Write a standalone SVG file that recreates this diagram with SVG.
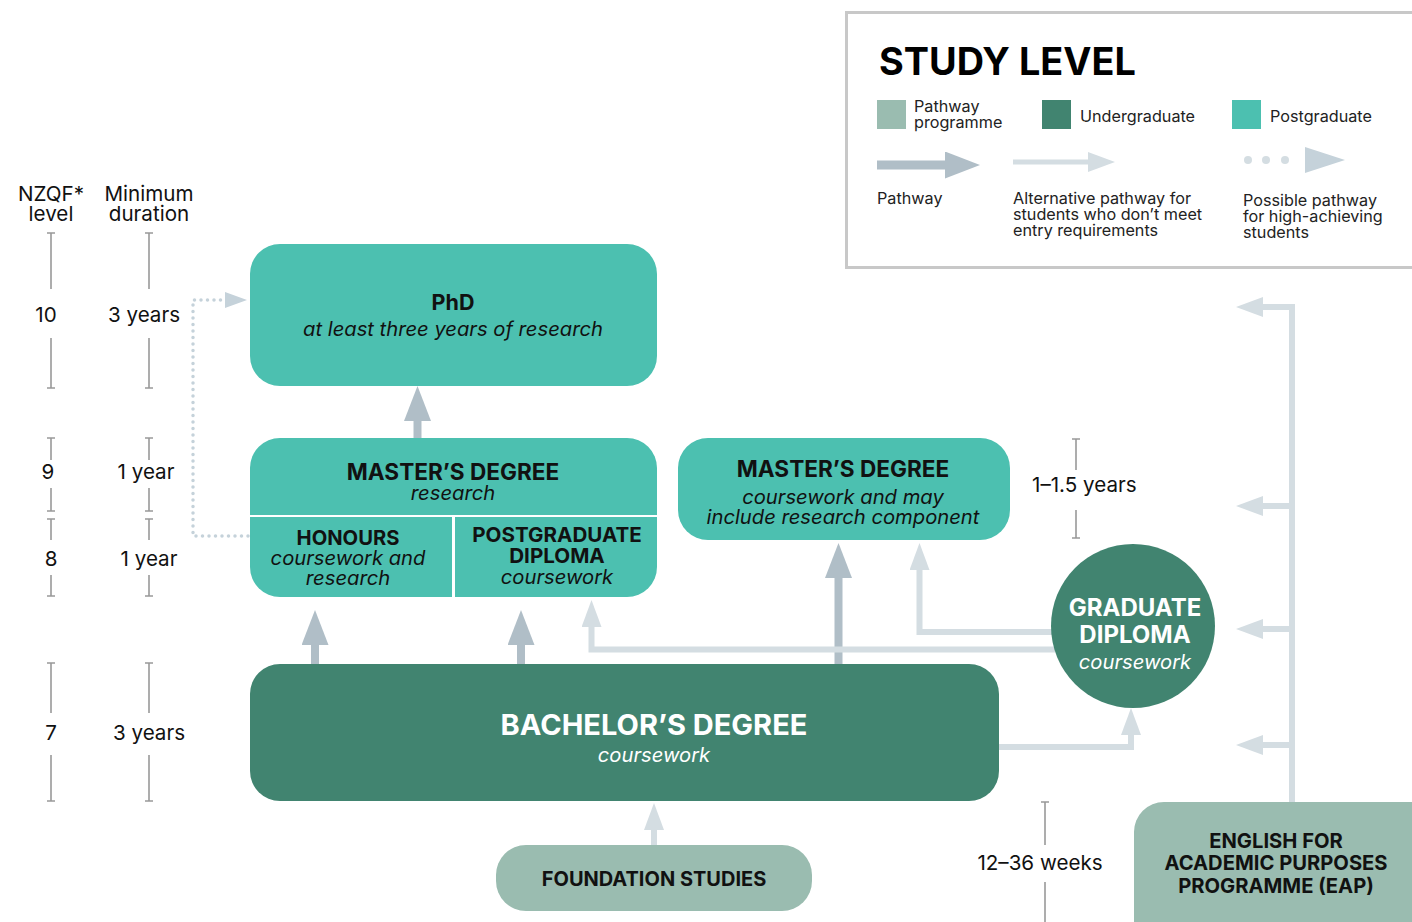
<svg xmlns="http://www.w3.org/2000/svg" width="1412" height="922" viewBox="0 0 1412 922">
<defs>
<style>
text{font-family:Inter,"Noto Sans","Liberation Sans",sans-serif;fill:#111}
.b{font-weight:700}
.i{font-style:italic;font-size:20.2px}
.w{fill:#fff}
.mid{text-anchor:middle}
.post{fill:#4CC0B0}
.under{fill:#418470}
.path{fill:#9ABCB0}
.scale{stroke:#999;stroke-width:1.6;fill:none}
.dark{stroke:#B0BEC7;stroke-width:8;fill:none}
.light{stroke:#D4DDE2;stroke-width:6;fill:none}
.dot{stroke:#C5D2DA;stroke-width:3.5;fill:none;stroke-dasharray:0 6.5;stroke-linecap:round}
.lg{font-size:16.2px;fill:#222}
.sc{font-size:20.6px}
</style>
<marker id="hd" viewBox="0 0 35 27" markerWidth="35" markerHeight="27" refX="0" refY="13.5" markerUnits="userSpaceOnUse" orient="auto"><path d="M0,0L35,13.5L0,27z" fill="#B0BEC7"/></marker>
<marker id="hl" viewBox="0 0 27 20" markerWidth="27" markerHeight="20" refX="0" refY="10" markerUnits="userSpaceOnUse" orient="auto"><path d="M0,0L27,10L0,20z" fill="#D4DDE2"/></marker>
<marker id="ht" viewBox="0 0 22 16" markerWidth="22" markerHeight="16" refX="0" refY="8" markerUnits="userSpaceOnUse" orient="auto"><path d="M0,0L22,8L0,16z" fill="#C5D2DA"/></marker>
</defs>
<rect width="1412" height="922" fill="#fff"/>

<g id="legend">
<rect x="846.5" y="12.5" width="580" height="255" fill="#fff" stroke="#C8C8C8" stroke-width="3"/>
<text x="879" y="75" class="b" style="font-size:37.8px;fill:#000">STUDY LEVEL</text>
<rect x="877" y="100" width="29" height="29" class="path"/>
<text x="914" y="112" class="lg">Pathway</text>
<text x="914" y="128" class="lg">programme</text>
<rect x="1042" y="100" width="29" height="29" class="under"/>
<text x="1080" y="122" class="lg">Undergraduate</text>
<rect x="1232" y="100" width="29" height="29" class="post"/>
<text x="1270" y="122" class="lg">Postgraduate</text>
<line x1="877" y1="165" x2="945" y2="165" stroke="#B0BEC7" stroke-width="9" marker-end="url(#hd)"/>
<line x1="1013" y1="162" x2="1088" y2="162" stroke="#D4DDE2" stroke-width="5" marker-end="url(#hl)"/>
<circle cx="1248" cy="160" r="4" fill="#D4DDE2"/>
<circle cx="1266" cy="160" r="4" fill="#D4DDE2"/>
<circle cx="1285" cy="160" r="4" fill="#D4DDE2"/>
<path d="M1305,147L1345,160L1305,173z" fill="#C5D2DA"/>
<text x="877" y="204" class="lg">Pathway</text>
<text x="1013" y="204" class="lg">Alternative pathway for</text>
<text x="1013" y="220" class="lg">students who don’t meet</text>
<text x="1013" y="236" class="lg">entry requirements</text>
<text x="1243" y="206" class="lg">Possible pathway</text>
<text x="1243" y="222" class="lg">for high-achieving</text>
<text x="1243" y="238" class="lg">students</text>
</g>

<g id="scale">
<text x="51" y="201" class="sc mid">NZQF*</text>
<text x="51" y="221" class="sc mid">level</text>
<text x="149" y="201" class="sc mid">Minimum</text>
<text x="149" y="221" class="sc mid">duration</text>
<path class="scale" d="M47,233H55M51,233V289M51,338V388M47,388H55M149,233V289M145,233H153M149,338V388M145,388H153
M47,438H55M51,438V460M51,488V511M47,511H55M145,438H153M149,438V460M149,488V511M145,511H153
M47,519H55M51,519V540M51,575V596M47,596H55M145,519H153M149,519V540M149,575V596M145,596H153
M47,663H55M51,663V713M51,755V801M47,801H55M145,663H153M149,663V713M149,755V801M145,801H153
M1072,439H1080M1076,439V470M1076,510V538M1072,538H1080
M1041,802H1049M1045,802V845M1045,882V922"/>
<text x="46" y="322" class="sc mid">10</text>
<text x="144" y="322" class="sc mid">3 years</text>
<text x="48" y="479" class="sc mid">9</text>
<text x="146" y="479" class="sc mid">1 year</text>
<text x="51" y="566" class="sc mid">8</text>
<text x="149" y="566" class="sc mid">1 year</text>
<text x="51" y="740" class="sc mid">7</text>
<text x="149" y="740" class="sc mid">3 years</text>
<text x="1032" y="492" class="sc">1–1.5 years</text>
<text x="1040" y="870" class="sc mid">12–36 weeks</text>
</g>

<g id="connectors">
<path class="dark" d="M417.5,438V421" marker-end="url(#hd)"/>
<path class="dark" d="M315,664V645" marker-end="url(#hd)"/>
<path class="dark" d="M521,664V645" marker-end="url(#hd)"/>
<path class="dark" d="M838.5,664V578" marker-end="url(#hd)"/>
<path class="light" d="M1055,649.5H591.5V627" marker-end="url(#hl)"/>
<path class="light" d="M1055,632H919.5V570" marker-end="url(#hl)"/>
<path class="light" d="M999,747H1131V735" marker-end="url(#hl)"/>
<path class="light" d="M654,845V830" marker-end="url(#hl)"/>
<path class="light" d="M1292,802V307H1263" marker-end="url(#hl)"/>
<path class="light" d="M1292,506H1263" marker-end="url(#hl)"/>
<path class="light" d="M1292,629H1263" marker-end="url(#hl)"/>
<path class="light" d="M1292,745H1263" marker-end="url(#hl)"/>
<path class="dot" d="M248,536H193V300H225" marker-end="url(#ht)"/>
</g>

<g id="phd">
<rect x="250" y="244" width="407" height="142" rx="30" class="post"/>
<text x="453" y="310" class="b mid" style="font-size:21.5px">PhD</text>
<text x="453" y="336" class="i mid">at least three years of research</text>
</g>

<g id="masters-research">
<path d="M280,438H627A30,30 0 0 1 657,468V515H250V468A30,30 0 0 1 280,438z" class="post"/>
<text x="453" y="480" class="b mid" style="font-size:22.6px">MASTER’S DEGREE</text>
<text x="453" y="500" class="i mid">research</text>
</g>
<g id="honours">
<path d="M250,517H452V597H280A30,30 0 0 1 250,567z" class="post"/>
<text x="348" y="545" class="b mid" style="font-size:20.2px">HONOURS</text>
<text x="348" y="565" class="i mid">coursework and</text>
<text x="348" y="585" class="i mid">research</text>
</g>
<g id="pgdip">
<path d="M455,517H657V567A30,30 0 0 1 627,597H455z" class="post"/>
<text x="557" y="542" class="b mid" style="font-size:20.6px">POSTGRADUATE</text>
<text x="557" y="563" class="b mid" style="font-size:20.6px">DIPLOMA</text>
<text x="557" y="584" class="i mid">coursework</text>
</g>

<g id="masters-coursework">
<rect x="678" y="438" width="332" height="102" rx="30" class="post"/>
<text x="843" y="477" class="b mid" style="font-size:22.6px">MASTER’S DEGREE</text>
<text x="843" y="504" class="i mid">coursework and may</text>
<text x="843" y="524" class="i mid">include research component</text>
</g>

<g id="bachelor">
<rect x="250" y="664" width="749" height="137" rx="30" class="under"/>
<text x="654" y="735" class="b mid w" style="font-size:29px">BACHELOR’S DEGREE</text>
<text x="654" y="762" class="i mid w">coursework</text>
</g>

<g id="graddip">
<circle cx="1133" cy="626" r="82" class="under"/>
<text x="1135" y="616" class="b mid w" style="font-size:24px">GRADUATE</text>
<text x="1135" y="643" class="b mid w" style="font-size:24px">DIPLOMA</text>
<text x="1135" y="669" class="i mid w">coursework</text>
</g>

<g id="foundation">
<rect x="496" y="845" width="316" height="66" rx="30" class="path"/>
<text x="654" y="886" class="b mid" style="font-size:20px">FOUNDATION STUDIES</text>
</g>

<g id="eap">
<rect x="1134" y="802" width="310" height="150" rx="30" class="path"/>
<text x="1276" y="848" class="b mid" style="font-size:20.2px">ENGLISH FOR</text>
<text x="1276" y="870" class="b mid" style="font-size:20.2px">ACADEMIC PURPOSES</text>
<text x="1276" y="893" class="b mid" style="font-size:20.2px">PROGRAMME (EAP)</text>
</g>
</svg>
